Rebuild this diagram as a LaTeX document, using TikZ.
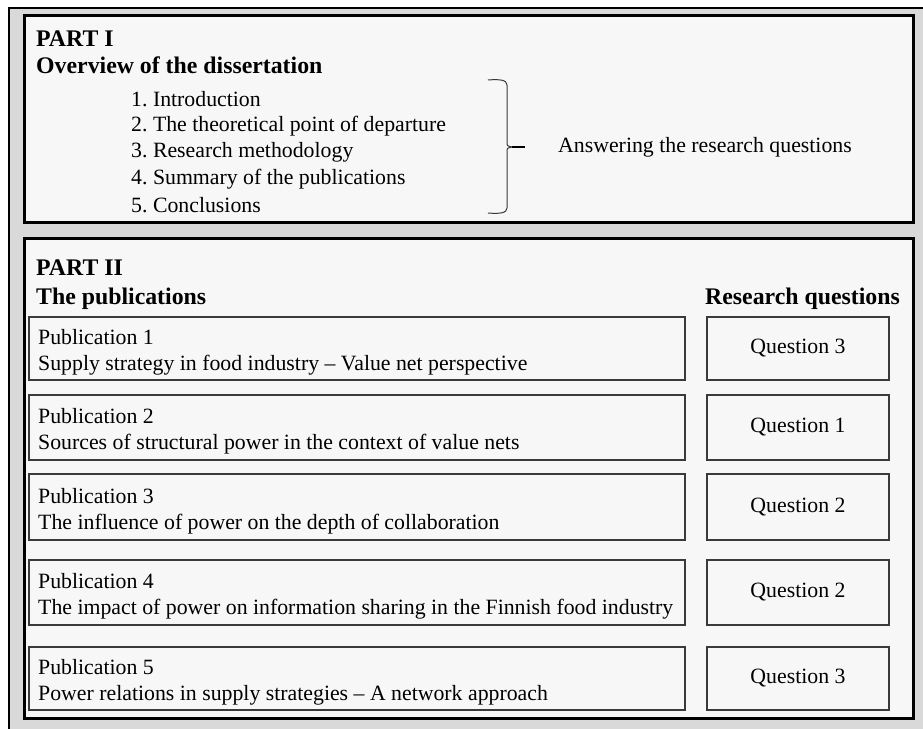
\documentclass[tikz,border=0pt]{standalone}
\usepackage{fontspec}
\setmainfont{Liberation Serif}
\frenchspacing
\definecolor{shade}{HTML}{D9D9D9}
\definecolor{paper}{HTML}{F7F7F7}
\definecolor{rule}{HTML}{3A3A3A}
\begin{document}
\begin{tikzpicture}[x=1bp,y=-1bp,
  txt/.style={anchor=west, inner sep=0pt, font=\fontsize{21.8bp}{26bp}\selectfont},
  head/.style={anchor=west, inner sep=0pt, font=\fontsize{23.8bp}{28bp}\selectfont\bfseries},
  part/.style={draw=black, line width=3bp, fill=paper},
  frame/.style={draw=rule, line width=1.3bp, fill=paper},
  pubtext/.style={anchor=west, inner sep=0pt, align=left,
    font=\fontsize{21.8bp}{26bp}\selectfont},
  qtext/.style={inner sep=0pt, font=\fontsize{21.8bp}{26bp}\selectfont},
  brace/.style={draw=rule, line width=1bp}]
\useasboundingbox (0,0) rectangle (923,729);
\clip (0,0) rectangle (923,729);

% outer frame
\draw[line width=2bp, fill=shade] (9,8) rectangle (940,745);

% Part I
\draw[part] (24,16) rectangle (913,222);
\node[head] (p1) at (36,39) {PART I};
\node[head] (p1t) at (36,65) {Overview of the dissertation};
\node[txt] (c1) at (131,99) {1. Introduction};
\node[txt] (c2) at (131,126) {2. The theoretical point of departure};
\node[txt] (c3) at (131,152) {3. Research methodology};
\node[txt] (c4) at (131,179) {4. Summary of the publications};
\node[txt] (c5) at (131,205) {5. Conclusions};

% brace
\coordinate (btop) at (488,80);
\coordinate (bbot) at (488,213);
\coordinate (bmid) at (512,147);
\coordinate (btip) at (525,147);
\draw[brace] (btop) .. controls (500,79) and (507,80) .. (507,85) -- (507,142)
  .. controls (507,146) .. (bmid);
\draw[brace] (bbot) .. controls (500,214) and (507,213) .. (507,208) -- (507,152)
  .. controls (507,148) .. (bmid);
\draw[line width=1.6bp] (bmid) -- (btip);
\node[txt] (ans) at (558,147) {Answering the research questions};

% Part II
\draw[part] (24,238) rectangle (913,718);
\node[head] (p2) at (36,268) {PART II};
\node[head] (p2t) at (36,299) {The publications};
\node[head, anchor=east] (rq) at (900,299) {Research questions};

% publication boxes and their research questions
\foreach \i/\top/\bot/\title/\q in {
  1/317/380/{Supply strategy in food industry – Value net perspective}/3,
  2/395/460/{Sources of structural power in the context of value nets}/1,
  3/474/540/{The influence of power on the depth of collaboration}/2,
  4/560/625/{The impact of power on information sharing in the Finnish food industry}/2,
  5/647/710/{Power relations in supply strategies – A network approach}/3}{
  \draw[frame] (29,\top) rectangle (685,\bot);
  \node[pubtext] (pub\i) at (38,{(\top+\bot)/2+4}) {Publication \i\\\title};
  \draw[frame] (707,\top) rectangle (889,\bot);
  \node[qtext] (q\i) at (798,{(\top+\bot)/2}) {Question \q};
}
\end{tikzpicture}
\end{document}
